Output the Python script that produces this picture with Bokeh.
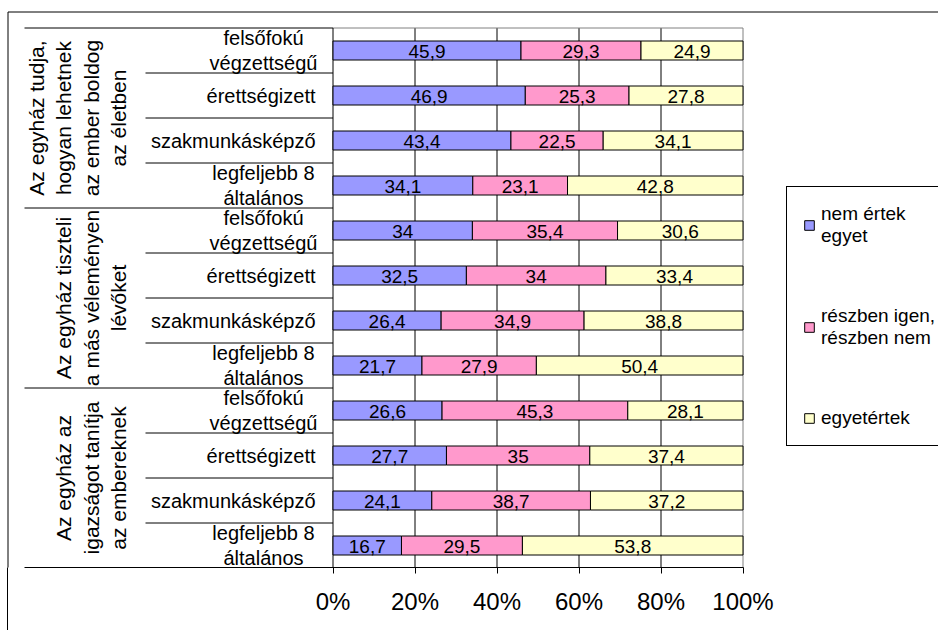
import math
from bokeh.plotting import figure
from bokeh.models import (Range1d, FixedTicker, PrintfTickFormatter, Legend, LegendItem,
                          ColumnDataSource)
from bokeh.core.properties import value
from bokeh.embed import file_html
from bokeh.resources import INLINE

# ---------------- data ----------------
groups = ["Az egyház tudja,\nhogyan lehetnek\naz ember boldog\naz életben",
          "Az egyház tiszteli\na más véleményen\nlévőket",
          "Az egyház az\nigazságot tanítja\naz embereknek"]
levels = ["felsőfokú\nvégzettségű", "érettségizett", "szakmunkásképző", "legfeljebb 8\náltalános"]
series = ["nem értek\negyet", "részben igen,\nrészben nem", "egyetértek"]
nem_ertek = [45.9, 46.9, 43.4, 34.1, 34, 32.5, 26.4, 21.7, 26.6, 27.7, 24.1, 16.7]
reszben = [29.3, 25.3, 22.5, 23.1, 35.4, 34, 34.9, 27.9, 45.3, 35, 38.7, 29.5]
egyetert = [24.9, 27.8, 34.1, 42.8, 30.6, 33.4, 38.8, 50.4, 28.1, 37.4, 37.2, 53.8]
ticks = [0, 20, 40, 60, 80, 100]
colors = ["#9999FF", "#FF99CC", "#FFFFCC"]

# ---------------- layout helpers (canvas pixels) ----------------
FONT = "Liberation Sans"
W, H = 938, 630
X0, X100 = 332.5, 742.5      # px of 0% and 100%
FB = 567                     # frame bottom px
KY = 45.0                    # px per category row
Y0 = 0.5 / KY                # data offset so that row edges fall on half pixels
n_rows = len(groups) * len(levels)
KX = (X100 - X0) / 100.0


def dx(cx):
    return (cx - X0) / KX


def dy(cy):
    return (FB - cy) / KY + Y0


p = figure(width=W, height=H, x_range=Range1d(dx(0), dx(W)), y_range=Range1d(dy(FB), dy(0)),
           output_backend="svg", toolbar_location=None, y_axis_location=None, title=None,
           min_border_left=0, min_border_right=0, min_border_top=0, min_border_bottom=H - FB,
           outline_line_color=None, background_fill_color="white",
           border_fill_color="white", border_fill_alpha=0)
# left edge of the chart-area frame below the plot frame (behind the transparent border fill)
p.styles = {"background-image": "linear-gradient(#000000, #000000)",
            "background-repeat": "no-repeat",
            "background-position": "7px 11px",
            "background-size": "1px 700px",
            "background-color": "white"}

ax = p.xaxis[0]
ax.bounds = (dx(24), ticks[-1])   # axis rule also closes the category table at the bottom
ax.ticker = FixedTicker(ticks=ticks)
ax.formatter = PrintfTickFormatter(format="%d%%")
ax.major_label_text_font = FONT
ax.major_label_text_font_size = "24px"
ax.major_label_text_color = "black"
ax.major_tick_in = 0
ax.major_tick_out = 6
ax.minor_tick_line_color = None
ax.axis_line_color = "black"
ax.major_tick_line_color = "black"
ax.major_label_standoff = 14

p.xgrid.grid_line_color = None
p.ygrid.grid_line_color = None

# vertical grid lines at the inner ticks
inner_ticks = ticks[1:-1]
p.segment(x0=inner_ticks, y0=[0] * len(inner_ticks), x1=inner_ticks,
          y1=[n_rows] * len(inner_ticks), line_color="black", line_width=1)
# plot-area border (grey, top and right)
p.segment(x0=[0, ticks[-1]], y0=[n_rows, 0], x1=[ticks[-1], ticks[-1]], y1=[n_rows, n_rows],
          line_color="#808080", line_width=1)
# vertical category axis line
p.segment(x0=[0], y0=[0], x1=[0], y1=[n_rows], line_color="black", line_width=1)

# ---------------- bars ----------------
vals = [nem_ertek, reszben, egyetert]
totals = [sum(v[i] for v in vals) for i in range(n_rows)]
ys = [n_rows - 0.5 - i for i in range(n_rows)]
renderers = []
cum = [0.0] * n_rows
for k, v in enumerate(vals):
    left = cum[:]
    right = [cum[i] + v[i] / totals[i] * 100 for i in range(n_rows)]
    cum = right
    src = ColumnDataSource(dict(
        y=ys, left=left, right=right,
        mid=[(l + r) / 2 for l, r in zip(left, right)],
        lab=[("%g" % x).replace(".", ",") for x in v]))
    r = p.hbar(y="y", left="left", right="right", height=19 / KY, source=src,
               fill_color=colors[k], line_color="black", line_width=1)
    renderers.append(r)
    p.text(x="mid", y="y", text="lab", source=src, text_align="center",
           text_baseline="middle", text_font=value(FONT), text_font_size=value("19px"),
           text_color="black", y_offset=1)

# ---------------- category labels ----------------
row_labels = [lv for g in groups for lv in levels]
multi = ["\n" in t for t in row_labels]
cat_src = ColumnDataSource(dict(
    x=[dx(263) if m else dx(315) for m in multi],
    y=ys, text=row_labels,
    align=["center" if m else "right" for m in multi]))
p.text(x="x", y="y", text="text", source=cat_src, text_align="align",
       text_baseline="middle", text_font=value(FONT), text_font_size=value("20px"),
       text_line_height=1.1, text_color="black")

grp_y = [n_rows - len(levels) * (g + 0.5) for g in range(len(groups))]
p.text(x=[dx(130)] * len(groups), y=grp_y, text=groups, angle=math.pi / 2,
       text_align="center", text_baseline="bottom", text_font=value(FONT),
       text_font_size=value("21px"), text_line_height=1.2, text_color="black")

# separators of the category table
inner_y = [n_rows - k for k in range(1, n_rows) if k % len(levels) != 0]
outer_y = [n_rows - k for k in range(0, n_rows, len(levels))]
p.segment(x0=[dx(145)] * len(inner_y), y0=inner_y, x1=[0] * len(inner_y), y1=inner_y,
          line_color="black", line_width=1)
p.segment(x0=[dx(24)] * len(outer_y), y0=outer_y, x1=[0] * len(outer_y), y1=outer_y,
          line_color="black", line_width=1)

# outer chart-area border (left and top, inside the plot frame)
p.segment(x0=[dx(7.5), dx(7.5)], y0=[dy(11.5), dy(11.5)], x1=[dx(7.5), dx(W + 10)],
          y1=[dy(FB + 10), dy(11.5)], line_color="black", line_width=1)

# ---------------- legend ----------------
legend = Legend(items=[LegendItem(label=series[k], renderers=[renderers[k]]) for k in range(3)],
                location=(786, FB - 446), orientation="vertical",
                label_text_font=FONT, label_text_font_size="19px", label_text_color="black",
                label_text_line_height=1.25,
                glyph_width=12, glyph_height=12, label_standoff=6, padding=16, spacing=58,
                border_line_color="black", border_line_width=1, border_line_alpha=1,
                background_fill_color="white", background_fill_alpha=1,
                label_width=150, margin=0)
p.add_layout(legend)

open("out.html", "w").write(file_html(p, INLINE))
